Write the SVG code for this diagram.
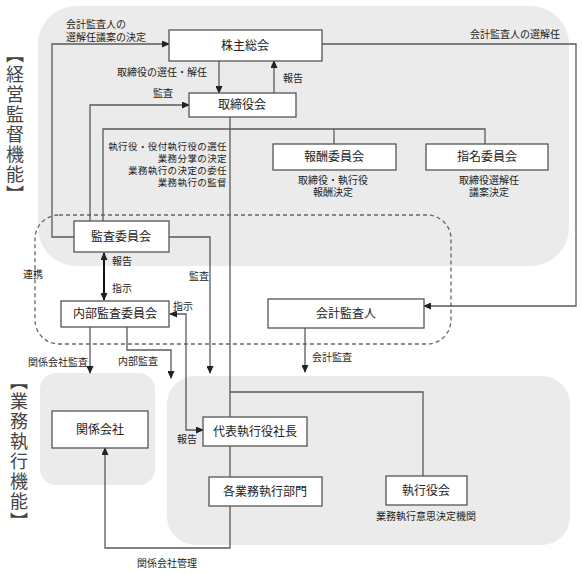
<svg xmlns="http://www.w3.org/2000/svg" width="582" height="574" viewBox="0 0 582 574">
<style>
.bg{fill:#ebebeb;stroke:none}
.box{fill:#fff;stroke:#555;stroke-width:1.3}
.ln{fill:none;stroke:#5a5a5a;stroke-width:1.3}
.bold{fill:none;stroke:#111;stroke-width:2}
.dash{fill:none;stroke:#666;stroke-width:1.3;stroke-dasharray:4 3}
text{font-family:"Noto Sans CJK JP","Noto Sans CJK SC",sans-serif;fill:#222}
.bl{font-size:12px;text-anchor:middle}
.lb{font-size:10px}
.sm{font-size:9.5px}
.vt{font-size:18px;fill:#444;writing-mode:vertical-rl;text-orientation:upright;letter-spacing:2px}
</style>
<defs>
<marker id="a" markerWidth="8" markerHeight="7" refX="7" refY="3.5" orient="auto-start-reverse" markerUnits="userSpaceOnUse"><path d="M0,0 L8,3.5 L0,7 z" fill="#222"/></marker>
</defs>
<g id="backgrounds">
<rect class="bg" x="38" y="6" width="531" height="260" rx="38"/>
<rect class="bg" x="40" y="373" width="115" height="112" rx="16"/>
<rect class="bg" x="167" y="376" width="403" height="169" rx="28"/>
<rect class="dash" x="35" y="215" width="416" height="129" rx="24"/>
</g>
<g id="side-labels">
<text class="vt" x="15" y="45">【経営監督機能】</text>
<text class="vt" x="19" y="372">【業務執行機能】</text>
</g>
<g id="connectors">
<path class="ln" d="M74,237 H52 V44 H169" marker-end="url(#a)"/>
<path class="ln" d="M219,61 V93" marker-end="url(#a)"/>
<path class="ln" d="M274,93 V61" marker-end="url(#a)"/>
<path class="ln" d="M90,221 V105 H189" marker-end="url(#a)"/>
<path class="ln" d="M103,221 V129 H485 V144"/>
<path class="ln" d="M334,129 V144"/>
<path class="ln" d="M230,117 V417"/>
<path class="ln" d="M230,392 H423 V476"/>
<path class="ln" d="M230,446 V477"/>
<path class="ln" d="M230,506 V548 H105 V448" marker-end="url(#a)"/>
<path class="bold" d="M104,253 V300" marker-start="url(#a)" marker-end="url(#a)"/>
<path class="ln" d="M169,237 H210 V373" marker-end="url(#a)"/>
<path class="ln" d="M203,430 H186 V314 H170" marker-start="url(#a)" marker-end="url(#a)"/>
<path class="ln" d="M90,327 V373" marker-end="url(#a)"/>
<path class="ln" d="M127,327 V350 H171 V378" marker-end="url(#a)"/>
<path class="ln" d="M305,328 V372" marker-end="url(#a)"/>
<path class="ln" d="M322,44 H576 V306 H424" marker-end="url(#a)"/>
</g>
<g id="n-kabunushi"><rect class="box" x="169" y="30" width="153" height="31"/><text class="bl" x="245" y="50">株主総会</text></g>
<g id="n-torishimariyakukai"><rect class="box" x="189" y="93" width="107" height="24"/><text class="bl" x="242" y="109">取締役会</text></g>
<g id="n-houshu"><rect class="box" x="273" y="144" width="123" height="26"/><text class="bl" x="334" y="161">報酬委員会</text></g>
<g id="n-shimei"><rect class="box" x="426" y="144" width="122" height="26"/><text class="bl" x="487" y="161">指名委員会</text></g>
<g id="n-kansa"><rect class="box" x="74" y="221" width="95" height="31"/><text class="bl" x="121" y="241">監査委員会</text></g>
<g id="n-naibu"><rect class="box" x="61" y="301" width="108" height="26"/><text class="bl" x="115" y="318">内部監査委員会</text></g>
<g id="n-kaikei"><rect class="box" x="268" y="299" width="156" height="29"/><text class="bl" x="346" y="318">会計監査人</text></g>
<g id="n-kankei"><rect class="box" x="52" y="411" width="96" height="37"/><text class="bl" x="100" y="434">関係会社</text></g>
<g id="n-daihyo"><rect class="box" x="203" y="417" width="104" height="29"/><text class="bl" x="255" y="436">代表執行役社長</text></g>
<g id="n-kakugyomu"><rect class="box" x="209" y="477" width="113" height="29"/><text class="bl" x="265" y="496">各業務執行部門</text></g>
<g id="n-shikkoyakukai"><rect class="box" x="386" y="476" width="81" height="29"/><text class="bl" x="426" y="495">執行役会</text></g>
<g id="labels">
<text class="lb" x="66" y="28">会計監査人の</text>
<text class="lb" x="66" y="41">選解任議案の決定</text>
<text class="lb" x="117" y="76">取締役の選任・解任</text>
<text class="lb" x="283" y="82">報告</text>
<text class="lb" x="153" y="97">監査</text>
<text class="lb" x="470" y="38">会計監査人の選解任</text>
<text class="sm" x="227" y="150" text-anchor="end" letter-spacing="0.4">執行役・役付執行役の選任</text>
<text class="sm" x="227" y="162" text-anchor="end" letter-spacing="0.4">業務分掌の決定</text>
<text class="sm" x="227" y="174" text-anchor="end" letter-spacing="0.4">業務執行の決定の委任</text>
<text class="sm" x="227" y="186" text-anchor="end" letter-spacing="0.4">業務執行の監督</text>
<text class="lb" x="333" y="184" text-anchor="middle">取締役・執行役</text>
<text class="lb" x="333" y="196" text-anchor="middle">報酬決定</text>
<text class="lb" x="489" y="184" text-anchor="middle">取締役選解任</text>
<text class="lb" x="489" y="196" text-anchor="middle">議案決定</text>
<text class="lb" x="112" y="265">報告</text>
<text class="lb" x="112" y="292">指示</text>
<text class="lb" x="23" y="278">連携</text>
<text class="lb" x="189" y="280">監査</text>
<text class="lb" x="173" y="310">指示</text>
<text class="lb" x="28" y="366">関係会社監査</text>
<text class="lb" x="118" y="365">内部監査</text>
<text class="lb" x="312" y="361">会計監査</text>
<text class="lb" x="177" y="443">報告</text>
<text class="lb" x="137" y="567">関係会社管理</text>
<text class="lb" x="426" y="520" text-anchor="middle">業務執行意思決定機関</text>
</g>
</svg>
